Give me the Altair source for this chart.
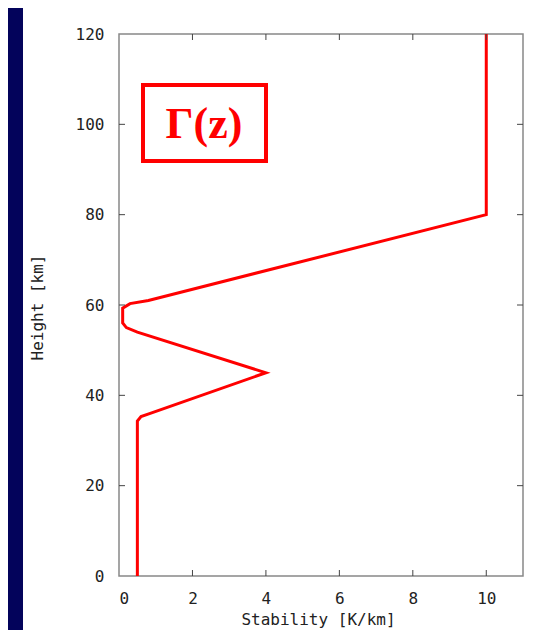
import altair as alt
import pandas as pd

# Data
heights = [0, 34.3, 35.3, 36, 45, 54, 55, 56, 59.3, 60.3, 61, 80, 120]
stability = [0.5, 0.5, 0.6, 0.85, 4, 0.5, 0.2, 0.1, 0.1, 0.3, 0.8, 10, 10]
x_ticks = [0, 2, 4, 6, 8, 10]
y_ticks = [0, 20, 40, 60, 80, 100, 120]
x_inner_ticks = [2, 4, 6, 8, 10]
y_inner_ticks = [20, 40, 60, 80, 100]
label_text = "Γ(z)"

W, H = 404, 542
NAVY = "#03035b"
RED = "#ff0000"
MONO = "DejaVu Sans Mono"

df = pd.DataFrame({"h": heights, "s": stability, "i": list(range(len(heights)))})
xt = pd.DataFrame({"v": x_inner_ticks})
yt = pd.DataFrame({"v": y_inner_ticks})

xscale = alt.Scale(domain=[0, 11], nice=False, zero=False)
yscale = alt.Scale(domain=[0, 120], nice=False, zero=False)

line = alt.Chart(df).mark_line(color=RED, strokeWidth=3, clip=True).encode(
    x=alt.X("s:Q", scale=xscale, axis=alt.Axis(
        title="Stability [K/km]", values=x_ticks, ticks=False, domain=False, grid=False,
        labelFont=MONO, labelFontSize=16, labelColor="#222222", labelPadding=14,
        titleFont=MONO, titleFontSize=16, titleFontWeight="normal", titleColor="#222222",
        titleX=199, titleY=43, titleBaseline="middle", titleAlign="center")),
    y=alt.Y("h:Q", scale=yscale, axis=alt.Axis(
        title="Height [km]", values=y_ticks, ticks=False, domain=False, grid=False,
        labelFont=MONO, labelFontSize=16, labelColor="#222222", labelPadding=15,
        titleFont=MONO, titleFontSize=16, titleFontWeight="normal", titleColor="#222222",
        titleX=-82, titleY=273, titleAngle=270, titleBaseline="middle", titleAlign="center")),
    order="i:O",
)

bottom_ticks = alt.Chart(xt).mark_rule(color="#444444", strokeWidth=1).encode(
    x=alt.X("v:Q", scale=xscale), y=alt.value(H), y2=alt.value(H - 6))
top_ticks = alt.Chart(xt).mark_rule(color="#444444", strokeWidth=1).encode(
    x=alt.X("v:Q", scale=xscale), y=alt.value(0), y2=alt.value(6))
left_ticks = alt.Chart(yt).mark_rule(color="#444444", strokeWidth=1).encode(
    y=alt.Y("v:Q", scale=yscale), x=alt.value(0), x2=alt.value(6))
right_ticks = alt.Chart(yt).mark_rule(color="#444444", strokeWidth=1).encode(
    y=alt.Y("v:Q", scale=yscale), x=alt.value(W), x2=alt.value(W - 6))

navy_strip = alt.Chart(pd.DataFrame({"a": [0]})).mark_rect(color=NAVY, clip=False).encode(
    x=alt.value(-111), x2=alt.value(-96), y=alt.value(-26), y2=alt.value(H + 60))

gbox = alt.Chart(pd.DataFrame({"a": [0]})).mark_rect(
    filled=False, stroke=RED, strokeWidth=4).encode(
    x=alt.value(24), x2=alt.value(147), y=alt.value(51), y2=alt.value(127))

gtext = alt.Chart(pd.DataFrame({"t": [label_text]})).mark_text(
    font="Liberation Serif", fontWeight="bold", fontSize=44, color=RED,
    align="center", baseline="middle").encode(
    text="t:N", x=alt.value(85), y=alt.value(91))

chart = alt.layer(navy_strip, line, bottom_ticks, top_ticks, left_ticks, right_ticks, gbox, gtext).properties(
    width=W, height=H,
    autosize=alt.AutoSizeParams(type="none"),
    padding={"left": 111, "top": 26, "right": 23, "bottom": 54},
    background="white",
).configure_view(stroke="#888888", strokeWidth=1.5)

chart.save("out.html", embed_options={"renderer": "svg", "actions": False})
